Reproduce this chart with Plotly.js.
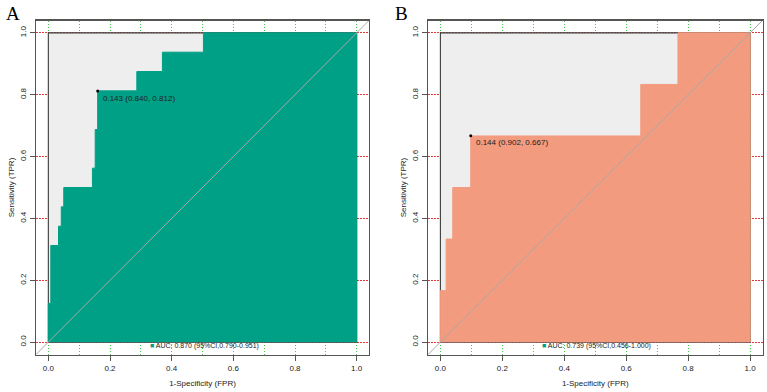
<!DOCTYPE html>
<html>
<head>
<meta charset="utf-8">
<script src="https://cdn.plot.ly/plotly-3.0.1.min.js"></script>
<style>
  html, body { margin: 0; padding: 0; background: #fff; }
  #chart { width: 767px; height: 392px; }
</style>
</head>
<body>
<div id="chart"></div>
<script>
// ROC corner points: FPR (1 - specificity) at which sensitivity rises to the TPR level
const fprA = [0, 0, 0.008, 0.033, 0.042, 0.050, 0.143, 0.152, 0.160, 0.287, 0.370, 0.503, 1];
const tprA = [0, 0.125, 0.3125, 0.375, 0.4375, 0.5, 0.5625, 0.6875, 0.8125, 0.875, 0.9375, 1, 1];
const fprB = [0, 0, 0.0185, 0.040, 0.098, 0.647, 0.767, 1];
const tprB = [0, 0.1667, 0.3333, 0.5, 0.6667, 0.8333, 1, 1];

// best cut-off: threshold (specificity, sensitivity)
const bestA = [0.143, 0.840, 0.812];
const bestB = [0.144, 0.902, 0.667];

// AUC with 95% CI
const aucA = [0.870, 0.790, 0.951];
const aucB = [0.739, 0.456, 1.000];

const panelLabels = ['A', 'B'];
const tickVals = [0, 0.2, 0.4, 0.6, 0.8, 1.0];
const tickText = ['0.0', '0.2', '0.4', '0.6', '0.8', '1.0'];
const xTitle = '1-Specificity (FPR)';
const yTitle = 'Sensitivity (TPR)';

const fillA = '#00A087';
const fillB = '#F39B7F';
const legendMark = '#00A087';
const textCol = '#222';
const frameCol = '#555';
const dotted = '1.5px,1.5px';
const FONT = 'Liberation Sans, Arial, sans-serif';

// expand corner points into a horizontal-then-vertical step outline, closed down to the baseline
function stepPath(fpr, tpr) {
  const x = [fpr[0]], y = [tpr[0]];
  for (let i = 1; i < fpr.length; i++) {
    x.push(fpr[i]); y.push(tpr[i - 1]);
    x.push(fpr[i]); y.push(tpr[i]);
  }
  x.push(fpr[fpr.length - 1]); y.push(tpr[0]);
  return { x, y };
}

function panelTraces(fpr, tpr, best, color, xa, ya) {
  const p = stepPath(fpr, tpr);
  const x0 = Math.min(...fpr), x1 = Math.max(...fpr);
  const y0 = Math.min(...tpr), y1 = Math.max(...tpr);
  return [
    // maximal-area square behind the curve
    { x: [x0, x1, x1, x0, x0], y: [y0, y0, y1, y1, y0], xaxis: xa, yaxis: ya, type: 'scatter',
      mode: 'lines', fill: 'toself', fillcolor: '#EEEEEE', line: { color: '#3a3a3a', width: 1.1 },
      hoverinfo: 'skip', showlegend: false },
    // area under the ROC curve
    { x: p.x, y: p.y, xaxis: xa, yaxis: ya, type: 'scatter', mode: 'lines',
      fill: 'toself', fillcolor: color, line: { color: color, width: 1 },
      hoverinfo: 'skip', showlegend: false },
    // reference diagonal
    { x: [-0.04, 1.04], y: [-0.04, 1.04], xaxis: xa, yaxis: ya, type: 'scatter', mode: 'lines',
      line: { color: '#A9A9A9', width: 1 }, hoverinfo: 'skip', showlegend: false },
    // best threshold
    { x: [1 - best[1]], y: [best[2]], xaxis: xa, yaxis: ya, type: 'scatter', mode: 'markers',
      marker: { color: '#000', size: 3 }, hoverinfo: 'skip', showlegend: false, cliponaxis: false }
  ];
}

const data = [].concat(
  panelTraces(fprA, tprA, bestA, fillA, 'x', 'y'),
  panelTraces(fprB, tprB, bestB, fillB, 'x2', 'y2')
);

function xAxis(domain, anchor) {
  return {
    domain: domain, anchor: anchor, range: [-0.04, 1.04], fixedrange: true,
    showline: true, mirror: true, linecolor: frameCol, linewidth: 1.4,
    ticks: 'outside', ticklen: 5, tickwidth: 1, tickcolor: frameCol,
    tickvals: tickVals, ticktext: tickText,
    tickfont: { family: FONT, size: 8, color: textCol },
    showgrid: true, gridcolor: '#4CC44C', griddash: dotted, gridwidth: 1,
    minor: { dtick: 0.1, tick0: 0, showgrid: true, gridcolor: '#4CC44C', griddash: dotted, gridwidth: 1, ticks: '' },
    zeroline: false,
    title: { text: xTitle, font: { family: FONT, size: 8, color: textCol }, standoff: 9 }
  };
}
function yAxis(anchor) {
  return {
    domain: [1 - 354.5 / 392, 1 - 20.5 / 392], anchor: anchor, range: [-0.04, 1.04], fixedrange: true,
    showline: true, mirror: true, linecolor: frameCol, linewidth: 1.4,
    ticks: 'outside', ticklen: 5, tickwidth: 1, tickcolor: frameCol,
    tickvals: tickVals, ticktext: tickText, tickangle: -90,
    tickfont: { family: FONT, size: 8, color: textCol },
    showgrid: true, gridcolor: '#E03A3A', griddash: dotted, gridwidth: 1,
    zeroline: false,
    title: { text: yTitle, font: { family: FONT, size: 8, color: textCol }, standoff: 3 }
  };
}

function cutLabel(best) {
  return best[0].toFixed(3) + ' (' + best[1].toFixed(3) + ', ' + best[2].toFixed(3) + ')';
}
function aucLabel(a) {
  return '<span style="color:' + legendMark + '">\u25A0</span> AUC: ' + a[0].toFixed(3) +
    ' (95%CI,' + a[1].toFixed(3) + '-' + a[2].toFixed(3) + ')';
}

const annotations = [
  { xref: 'x', yref: 'y', x: 1 - bestA[1], y: bestA[2], text: cutLabel(bestA), showarrow: false,
    xanchor: 'left', yanchor: 'middle', xshift: 3, yshift: -7, font: { family: FONT, size: 8, color: textCol } },
  { xref: 'x2', yref: 'y2', x: 1 - bestB[1], y: bestB[2], text: cutLabel(bestB), showarrow: false,
    xanchor: 'left', yanchor: 'middle', xshift: 3, yshift: -7, font: { family: FONT, size: 8, color: textCol } },
  { xref: 'x', yref: 'y', x: 0.505, y: -0.014, text: aucLabel(aucA), showarrow: false,
    xanchor: 'center', yanchor: 'middle', font: { family: FONT, size: 7, color: textCol } },
  { xref: 'x2', yref: 'y2', x: 0.505, y: -0.014, text: aucLabel(aucB), showarrow: false,
    xanchor: 'center', yanchor: 'middle', font: { family: FONT, size: 7, color: textCol } },
  { xref: 'paper', yref: 'paper', x: 13 / 767, y: 1 - 14 / 392, text: panelLabels[0], showarrow: false,
    xanchor: 'center', yanchor: 'middle', font: { family: 'Liberation Serif, Times New Roman, serif', size: 19, color: '#000' } },
  { xref: 'paper', yref: 'paper', x: 401 / 767, y: 1 - 14 / 392, text: panelLabels[1], showarrow: false,
    xanchor: 'center', yanchor: 'middle', font: { family: 'Liberation Serif, Times New Roman, serif', size: 19, color: '#000' } }
];

const layout = {
  width: 767, height: 392,
  margin: { l: 0, r: 0, t: 0, b: 0 },
  paper_bgcolor: '#fff', plot_bgcolor: '#fff',
  showlegend: false,
  font: { family: FONT, size: 8, color: textCol },
  xaxis: xAxis([36 / 767, 369 / 767], 'y'),
  yaxis: yAxis('x'),
  xaxis2: xAxis([428 / 767, 762.5 / 767], 'y2'),
  yaxis2: yAxis('x2'),
  annotations: annotations
};

Plotly.newPlot('chart', data, layout, { displayModeBar: false, staticPlot: true });
</script>
</body>
</html>
